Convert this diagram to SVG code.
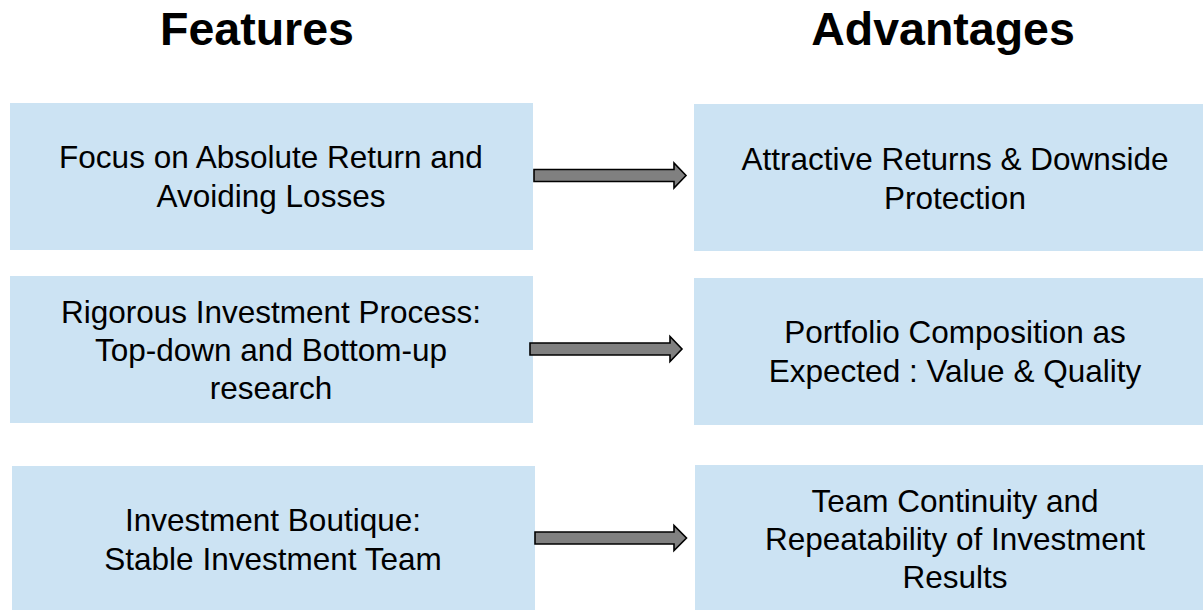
<svg xmlns="http://www.w3.org/2000/svg" width="1203" height="610" viewBox="0 0 1203 610">
<style>
.title{font-family:"Liberation Sans",Arial,sans-serif;font-weight:bold;font-size:46.5px;fill:#000;text-anchor:middle}
.box{fill:#CCE3F3}
.lbl{font-family:"Liberation Sans",Arial,sans-serif;font-size:31.5px;fill:#000;text-anchor:middle}
.arr{fill:#808080;stroke:#000;stroke-width:1.6;stroke-linejoin:miter}
</style>
<rect width="1203" height="610" fill="#fff"/>
<g id="title-features"><text class="title" x="257" y="45">Features</text></g>
<g id="title-advantages"><text class="title" x="943" y="45">Advantages</text></g>

<g id="feature1">
<rect class="box" x="10" y="103" width="523" height="147"/>
<text class="lbl" x="271" y="168">Focus on Absolute Return and</text>
<text class="lbl" x="271" y="207">Avoiding Losses</text>
</g>
<g id="advantage1">
<rect class="box" x="694" y="104" width="522" height="147"/>
<text class="lbl" x="955" y="170">Attractive Returns &amp; Downside</text>
<text class="lbl" x="955" y="209">Protection</text>
</g>

<g id="feature2">
<rect class="box" x="10" y="276" width="523" height="147"/>
<text class="lbl" x="271" y="323">Rigorous Investment Process:</text>
<text class="lbl" x="271" y="361">Top-down and Bottom-up</text>
<text class="lbl" x="271" y="399">research</text>
</g>
<g id="advantage2">
<rect class="box" x="694" y="278" width="522" height="147"/>
<text class="lbl" x="955" y="343">Portfolio Composition as</text>
<text class="lbl" x="955" y="382">Expected : Value &amp; Quality</text>
</g>

<g id="feature3">
<rect class="box" x="12" y="466" width="523" height="150"/>
<text class="lbl" x="273" y="531">Investment Boutique:</text>
<text class="lbl" x="273" y="570">Stable Investment Team</text>
</g>
<g id="advantage3">
<rect class="box" x="695" y="465" width="521" height="150"/>
<text class="lbl" x="955" y="512">Team Continuity and</text>
<text class="lbl" x="955" y="550">Repeatability of Investment</text>
<text class="lbl" x="955" y="588">Results</text>
</g>

<g id="connectors">
<path class="arr" d="M534,169.5 L674,169.5 L674,163 L686,175.5 L674,188 L674,181.5 L534,181.5 Z"/>
<path class="arr" d="M530,343 L670,343 L670,336.5 L682,349 L670,361.5 L670,355 L530,355 Z"/>
<path class="arr" d="M535,532 L674,532 L674,525.5 L686.5,538 L674,550.5 L674,544 L535,544 Z"/>
</g>
</svg>
